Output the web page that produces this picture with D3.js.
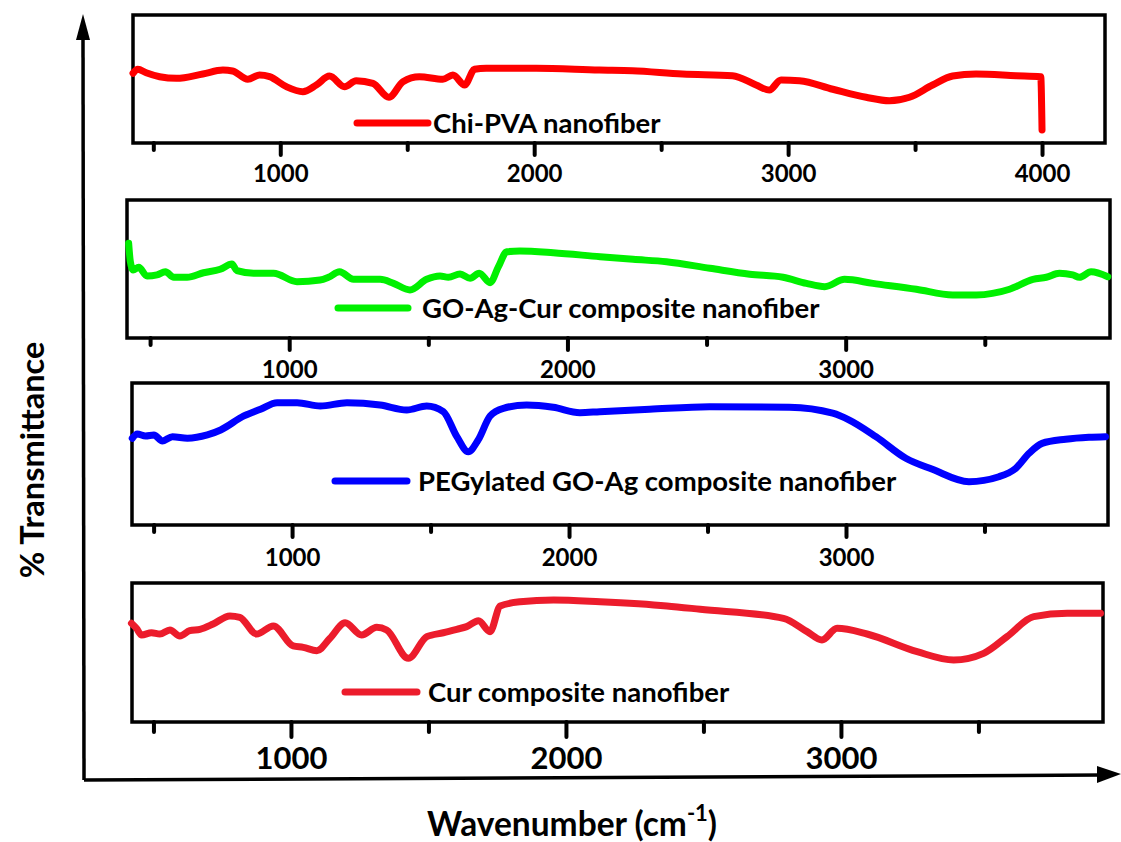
<!DOCTYPE html>
<html>
<head>
<meta charset="utf-8">
<script src="https://cdn.jsdelivr.net/npm/d3@7"></script>
<style>
  body { margin: 0; background: #fff; }
  svg { display: block; font-family: Lato, "Open Sans", sans-serif; font-weight: 700; }
</style>
</head>
<body>
<svg id="chart" width="1121" height="842"></svg>
<script>
/* ===== FTIR stacked spectra ===== */

// ---------- data ----------
const chiWn = [420,439,472,525,591,695,774,812,872,918,958,1024,1089,1142,1194,1253,1299,1365,1428,1483,1548,1640,1680,1726,1765,1811,2008,2257,2387,2584,2781,2874,2926,2972,3045,3176,3307,3399,3478,3569,3648,3740,3898,3995,4000];
const chiT  = [54.5,57.6,54.9,51.8,50.5,53.9,57.0,56.3,49.8,53.1,51.8,44.0,40.1,45.3,52.3,44.0,48.7,46.6,35.7,47.9,51.8,49.8,53.1,45.3,57.6,58.4,58.4,57.0,56.5,53.9,52.6,45.3,41.4,49.2,48.7,42.0,35.7,33.0,35.7,45.3,52.3,53.9,52.6,51.8,10.2];

const goWn = [423,429,439,459,489,525,555,585,633,692,752,794,812,872,944,1028,1111,1141,1181,1231,1327,1375,1434,1494,1542,1572,1614,1650,1683,1722,1752,1782,1829,1949,2117,2236,2356,2512,2655,2775,2859,2925,2996,3098,3254,3385,3469,3589,3673,3721,3768,3816,3840,3882,3942];
const goT  = [68.6,55.3,49.3,51.2,44.9,45.7,48.0,44.0,44.0,47.3,49.8,53.6,48.8,46.9,46.9,40.8,42.0,44.0,48.0,42.5,42.5,39.6,34.8,42.5,44.9,44.0,46.4,43.3,46.9,40.1,51.7,62.5,63.0,61.8,58.9,57.0,55.3,50.5,46.2,44.0,39.6,37.2,42.5,39.6,35.3,31.2,31.2,35.3,42.5,44.0,46.9,45.7,44.0,48.0,44.4];

const pegWn = [423,441,471,501,532,568,622,694,742,826,886,946,1018,1102,1198,1318,1414,1486,1546,1595,1636,1672,1715,1763,1847,1943,2039,2111,2291,2507,2795,2952,3012,3108,3216,3312,3444,3552,3613,3661,3708,3793,3877,3937];
const pegT  = [61.1,64.1,62.7,63.4,59.2,62.2,61.1,63.4,66.9,76.8,81.5,86.1,86.1,83.8,86.1,84.5,81.0,83.8,79.8,62.2,51.6,59.9,76.8,82.2,84.5,82.9,79.1,79.8,81.5,83.3,82.9,78.7,73.9,62.2,47.0,39.2,30.5,34.0,39.9,50.5,57.5,60.4,61.8,62.2];

const curWn = [420,438,457,493,523,560,596,632,669,717,778,814,875,936,1008,1045,1094,1142,1197,1257,1312,1348,1427,1494,1554,1603,1639,1682,1724,1761,1833,1955,2124,2367,2488,2791,2877,2931,2986,3095,3277,3410,3519,3604,3701,3823,3944];
const curT  = [71.0,67.4,62.6,64.2,63.3,66.2,61.9,65.7,66.7,70.5,76.3,75.3,63.3,69.1,54.7,53.7,51.3,60.2,71.4,62.6,68.1,66.2,45.8,61.4,64.2,66.7,68.6,72.9,65.0,83.5,86.5,87.8,86.5,83.5,81.1,74.6,65.0,59.0,67.4,63.3,50.6,44.6,49.4,61.4,75.8,78.2,78.2];

const seriesNames  = ["Chi-PVA nanofiber", "GO-Ag-Cur composite nanofiber", "PEGylated GO-Ag composite nanofiber", "Cur composite nanofiber"];
const seriesColors = ["#ff0000", "#00f000", "#0000ff", "#ec1c2c"];
const majorTicks   = [[1000,2000,3000,4000],[1000,2000,3000],[1000,2000,3000],[1000,2000,3000]];
const minorTicks   = [500,1500,2500,3500];
const yLabel = "% Transmittance";
const xLabel = "Wavenumber (cm";
const xLabelSup = "-1";

// ---------- layout (pixels) ----------
const panels = [
  {wn: chiWn, t: chiT, dom:[420,4248], x0:133, x1:1105, top:15,  bot:143, fs:24, pad:10, tick:12, leg:[357,428,123,433]},
  {wn: goWn,  t: goT,  dom:[417,3950], x0:127, x1:1110, top:200, bot:338, fs:24, pad:11, tick:12, leg:[338,408,308,422]},
  {wn: pegWn, t: pegT, dom:[422,3946], x0:132, x1:1108, top:383, bot:525, fs:24, pad:12, tick:12, leg:[335,407,481,418]},
  {wn: curWn, t: curT, dom:[422,3953], x0:132, x1:1103, top:583, bot:722, fs:31, pad:10, tick:15, leg:[345,417,692,428]},
];

const svg = d3.select("#chart");

panels.forEach((p, i) => {
  const x = d3.scaleLinear().domain(p.dom).range([p.x0, p.x1]);
  const y = d3.scaleLinear().domain([0, 100]).range([p.bot, p.top]);
  const g = svg.append("g");

  // minor + major ticks (outward, below the frame)
  const minor = g.append("g").attr("transform", `translate(0,${p.bot})`)
    .call(d3.axisBottom(x).tickValues(minorTicks).tickSize(p.tick - 5).tickFormat(""));
  const major = g.append("g").attr("transform", `translate(0,${p.bot})`)
    .call(d3.axisBottom(x).tickValues(majorTicks[i]).tickSize(p.tick).tickPadding(p.pad).tickFormat(d3.format("d")));
  [minor, major].forEach(a => {
    a.select(".domain").remove();
    a.selectAll(".tick line").attr("stroke", "#000").attr("stroke-width", 4).attr("stroke-linecap", "round");
  });
  major.selectAll(".tick text")
    .attr("fill", "#000")
    .style("font-family", "Lato, 'Open Sans', sans-serif")
    .style("font-weight", 700)
    .style("font-size", p.fs + "px");

  // frame
  g.append("rect")
    .attr("x", p.x0).attr("y", p.top)
    .attr("width", p.x1 - p.x0).attr("height", p.bot - p.top)
    .attr("fill", "none").attr("stroke", "#000").attr("stroke-width", 3.5);

  // spectrum
  const line = d3.line()
    .x((d, k) => x(p.wn[k]))
    .y(d => y(d))
    .curve(d3.curveMonotoneX);
  g.append("path")
    .attr("d", line(p.t))
    .attr("fill", "none")
    .attr("stroke", seriesColors[i])
    .attr("stroke-width", 7)
    .attr("stroke-linejoin", "round")
    .attr("stroke-linecap", "round");

  // legend
  const [lx0, lx1, ly, tx] = p.leg;
  g.append("line")
    .attr("x1", lx0).attr("x2", lx1).attr("y1", ly).attr("y2", ly)
    .attr("stroke", seriesColors[i]).attr("stroke-width", 7).attr("stroke-linecap", "round");
  g.append("text")
    .attr("x", tx).attr("y", ly).attr("dy", "0.36em")
    .attr("font-size", 27.5)
    .attr("fill", "#000")
    .text(seriesNames[i]);
});

// ---------- outer axis arrows ----------
const ax = svg.append("g").attr("fill", "#000").attr("stroke", "#000");
ax.append("line").attr("x1", 84).attr("y1", 780).attr("x2", 83).attr("y2", 34).attr("stroke-width", 3.5);
ax.append("path").attr("d", "M83,14 L76,40 L90,40 Z").attr("stroke", "none");
ax.append("line").attr("x1", 84).attr("y1", 780).attr("x2", 1102).attr("y2", 775).attr("stroke-width", 3.5);
ax.append("path").attr("d", "M1121,774 L1097,766 L1097,783 Z").attr("stroke", "none");

// axis titles
svg.append("text")
  .attr("transform", "translate(44,460) rotate(-90)")
  .attr("text-anchor", "middle")
  .attr("font-size", 32.5)
  .text(yLabel);

const xt = svg.append("text")
  .attr("x", 427).attr("y", 836)
  .attr("font-size", 33.5);
xt.append("tspan").text(xLabel);
xt.append("tspan").attr("font-size", 22).attr("dy", -15).text(xLabelSup);
xt.append("tspan").attr("dy", 15).text(")");
</script>
</body>
</html>
